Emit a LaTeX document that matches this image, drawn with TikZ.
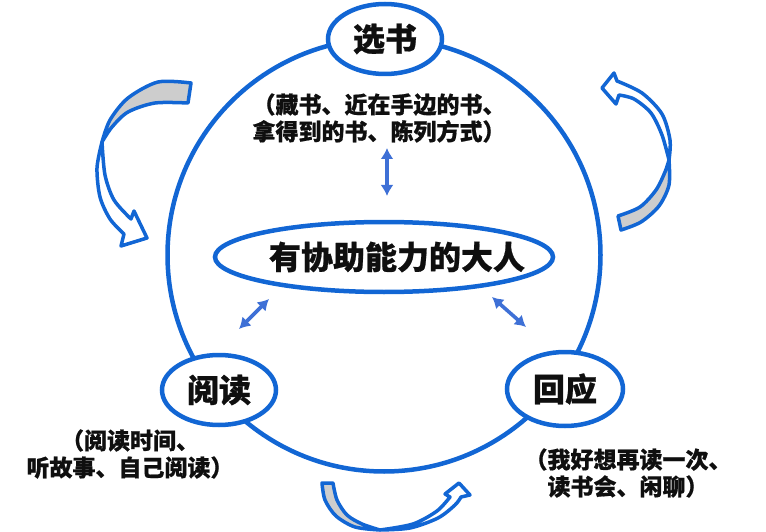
\documentclass[tikz,border=0pt]{standalone}
\usepackage{fontspec}
\newfontfamily\cjk{Noto Sans CJK SC}[BoldFeatures={FakeBold=0.7}]
\usetikzlibrary{arrows.meta,shapes.geometric}
\definecolor{ringblue}{RGB}{18,102,212}
\definecolor{arrblue}{RGB}{62,112,214}
\definecolor{bandgray}{RGB}{205,205,205}
\definecolor{txt}{RGB}{15,15,15}
\tikzset{
  ring/.style={draw=ringblue,line width=4.5pt},
  stage/.style={ellipse,draw=ringblue,line width=4.5pt,fill=white,minimum width=114pt,minimum height=70pt,inner sep=0pt,text=txt,font=\cjk\bfseries\fontsize{32}{36}\selectfont},
  hub/.style={ellipse,draw=ringblue,line width=4.5pt,minimum width=338pt,minimum height=70pt,inner sep=0pt},
  hubtext/.style={text=txt,inner sep=0pt,font=\cjk\bfseries\fontsize{32}{36}\selectfont},
  note/.style={align=center,inner sep=0pt,text=txt,font=\cjk\bfseries\fontsize{23}{27}\selectfont},
  link/.style={arrblue,line width=3.6pt,{Latex[length=11pt,width=13pt]}-{Latex[length=11pt,width=13pt]}},
  band/.style={draw=ringblue,line width=3.5pt,line join=round},
}
\begin{document}
\begin{tikzpicture}[x=1pt,y=-1pt]
\useasboundingbox (0,0) rectangle (766,532);
% big cycle ring
\draw[ring] (384,255) circle[radius=216.5];
% stages
\node[stage] (pick) at (385,39) {选书};
\node[stage] (read) at (219,390) {阅读};
\node[stage,minimum width=116pt,minimum height=74pt] (resp) at (565,389) {回应};
% hub
\node[hub] (hub) at (384,257) {};
\node[hubtext] (hubt) at (397,257) {有协助能力的大人};
% notes
\node[note] (pickn) at (379,118) {（藏书、近在手边的书、\\拿得到的书、陈列方式）};
\node[note] (readn) at (130,454) {（阅读时间、\\听故事、自己阅读）};
\node[note] (respn) at (628,473) {（我好想再读一次、\\读书会、闲聊）};
% double arrows
\coordinate (p1) at (387,148); \coordinate (p2) at (387,196);
\coordinate (r1) at (269,299); \coordinate (r2) at (239,329);
\coordinate (s1) at (492,297); \coordinate (s2) at (526,327);
\draw[link] (p1) -- (p2);
\draw[link] (r1) -- (r2);
\draw[link] (s1) -- (s2);
% curved arrow top-left
\filldraw[band,fill=bandgray] plot[smooth] coordinates {(191,83) (158,82) (128,98) (110,120) (102,142)}
  -- plot[smooth] coordinates {(102,142) (112,127) (128,112) (155,103) (188,103)} -- cycle;
\filldraw[band,fill=white] plot[smooth] coordinates {(102,142) (97,168) (100,197) (110,219) (124,234)}
  -- (121,246) -- (147,238) -- (134,211) -- plot[smooth] coordinates {(131,219) (114,200) (105,175) (102,142)} -- cycle;
% curved arrow top-right
\filldraw[band,fill=bandgray] plot[smooth] coordinates {(618,216) (640,207) (656,190) (665,172) (669,160)}
  -- plot[smooth] coordinates {(669,160) (669,185) (659,206) (641,222) (621,230)} -- cycle;
\filldraw[band,fill=white] plot[smooth] coordinates {(669,160) (670,140) (662,114) (642,93) (617,81)}
  -- (614,73) -- (602,88) -- (616,104) -- plot[smooth] coordinates {(619,95) (634,99) (651,113) (662,135) (669,160)} -- cycle;
% curved arrow bottom
\filldraw[band,fill=bandgray] plot[smooth] coordinates {(333,483) (337,500) (347,515) (362,524) (380,530)}
  -- plot[smooth] coordinates {(380,530) (355,527) (336,516) (325,500) (322,483)} -- cycle;
\filldraw[band,fill=white] plot[smooth] coordinates {(380,530) (410,528) (438,518) (455,505) (461,497)}
  -- (470,495) -- (459,483) -- (445,494) -- plot[smooth] coordinates {(450,497) (437,511) (413,524) (380,530)} -- cycle;
\end{tikzpicture}
\end{document}
